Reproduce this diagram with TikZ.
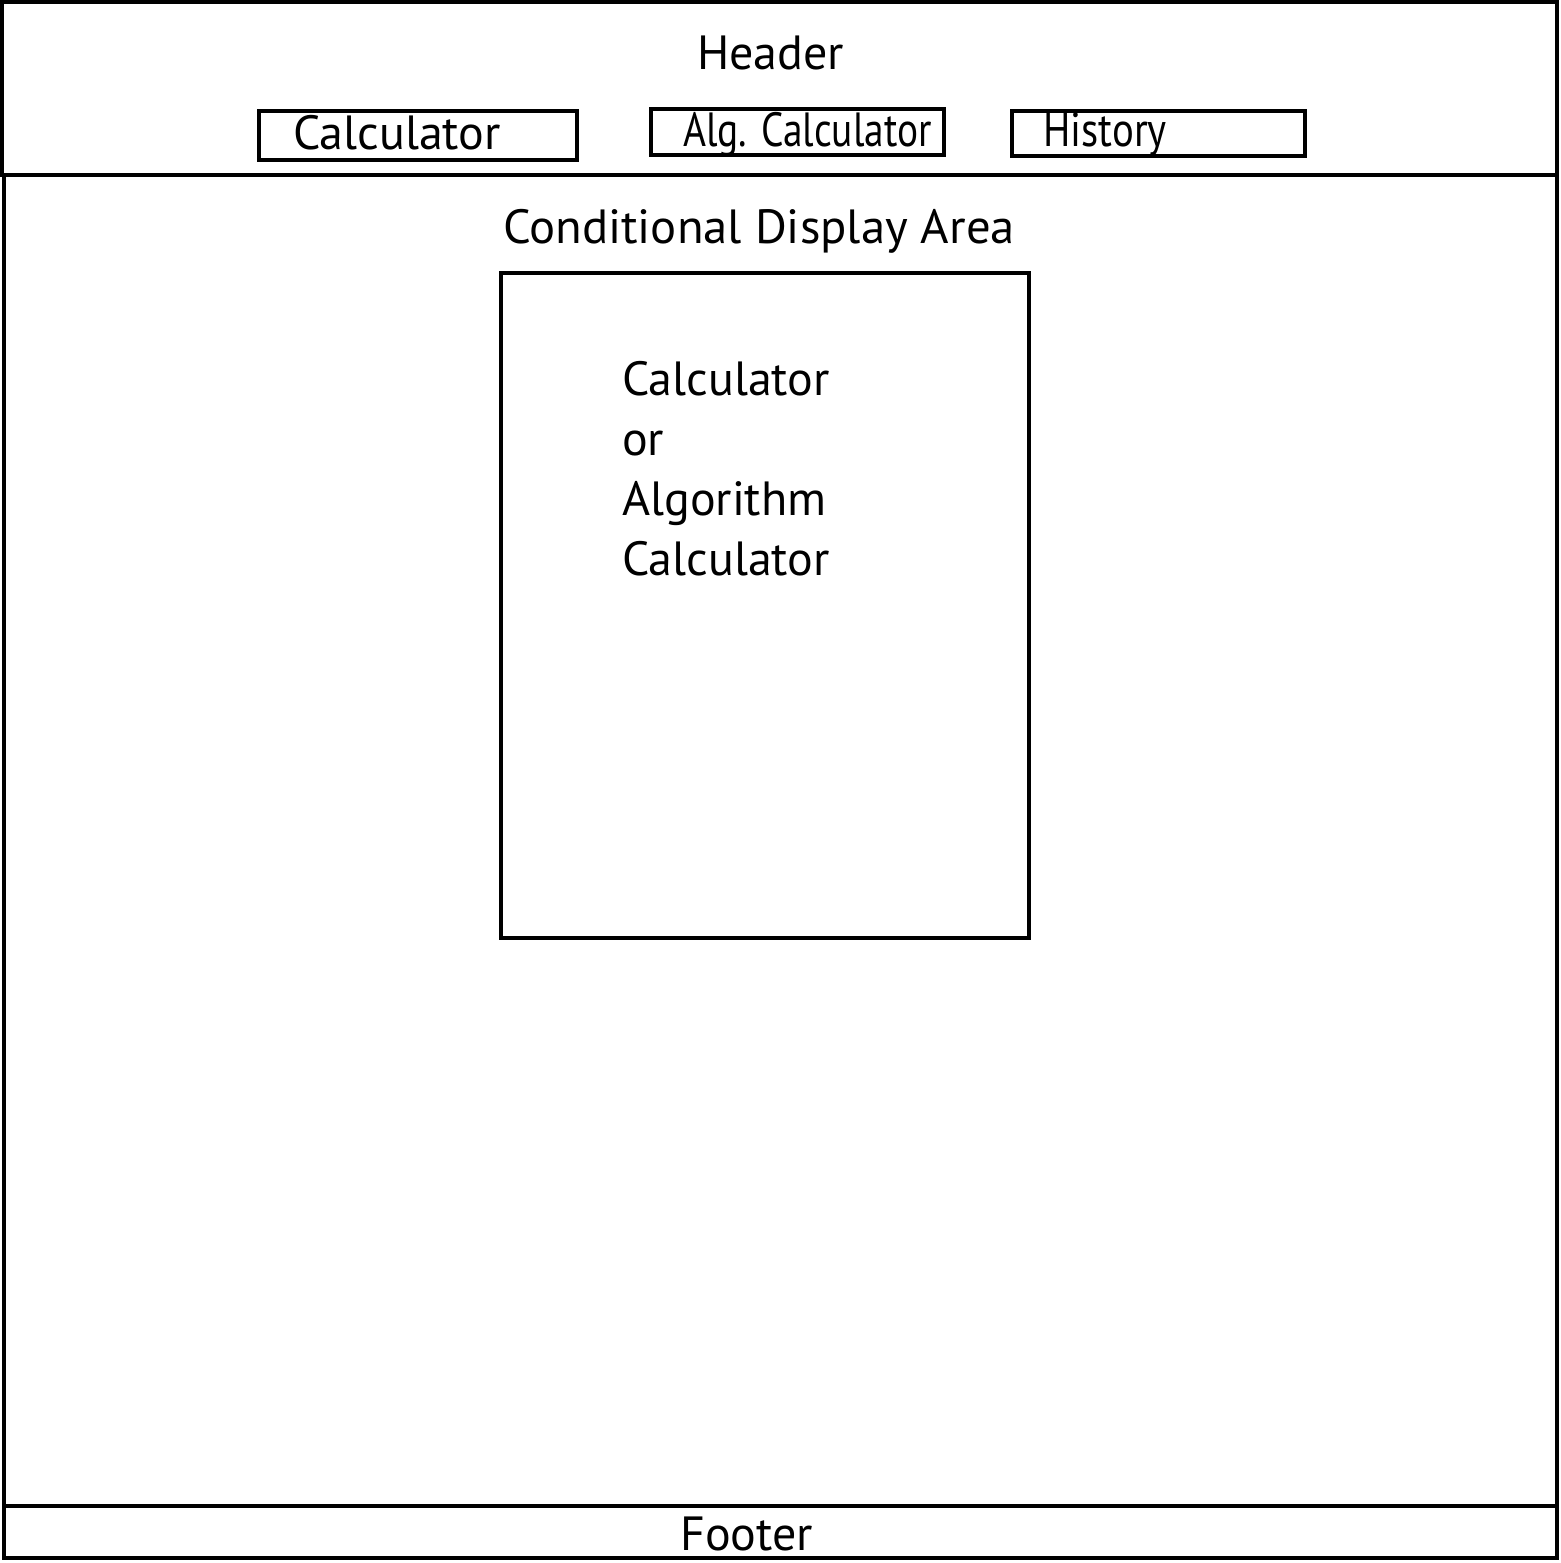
\documentclass[tikz,border=0pt]{standalone}
\usepackage{fontspec}
\setmainfont{PT Sans}
\begin{document}
\begin{tikzpicture}[x=1bp,y=-1bp,
  frame/.style={draw=black,line width=4bp},
  btn/.style={draw=black,line width=3.5bp},
  lbl/.style={inner sep=0pt,anchor=base west,font=\fontsize{48bp}{58bp}\selectfont}]
\useasboundingbox (0,0) rectangle (1561,1563);
% frames
\draw[frame] (2,2) rectangle (1557,175);
\draw[frame] (4,175) rectangle (1557,1506);
\draw[frame] (4,1506) rectangle (1557,1558);
% header
\node[lbl] (header) at (697,70) {Header};
\draw[btn] (259,111) rectangle (577,160);
\node[lbl] (bcalc) at (293,150) {Calculator};
\draw[btn] (651,109) rectangle (944,155);
\node[lbl,xscale=0.82] (balg) at (683,147) {Alg. Calculator};
\draw[btn] (1012,111) rectangle (1305,156);
\node[lbl,xscale=0.85] (bhist) at (1043,147) {History};
% display area
\node[lbl,xscale=1.015] (cda) at (503,243) {Conditional Display Area};
\draw[frame] (501,273) rectangle (1029,938);
\node[lbl] (l1) at (622,395) {Calculator};
\node[lbl] (l2) at (622,455) {or};
\node[lbl] (l3) at (622,515) {Algorithm};
\node[lbl] (l4) at (622,575) {Calculator};
% footer
\node[lbl] (footer) at (680,1550) {Footer};
\end{tikzpicture}
\end{document}
